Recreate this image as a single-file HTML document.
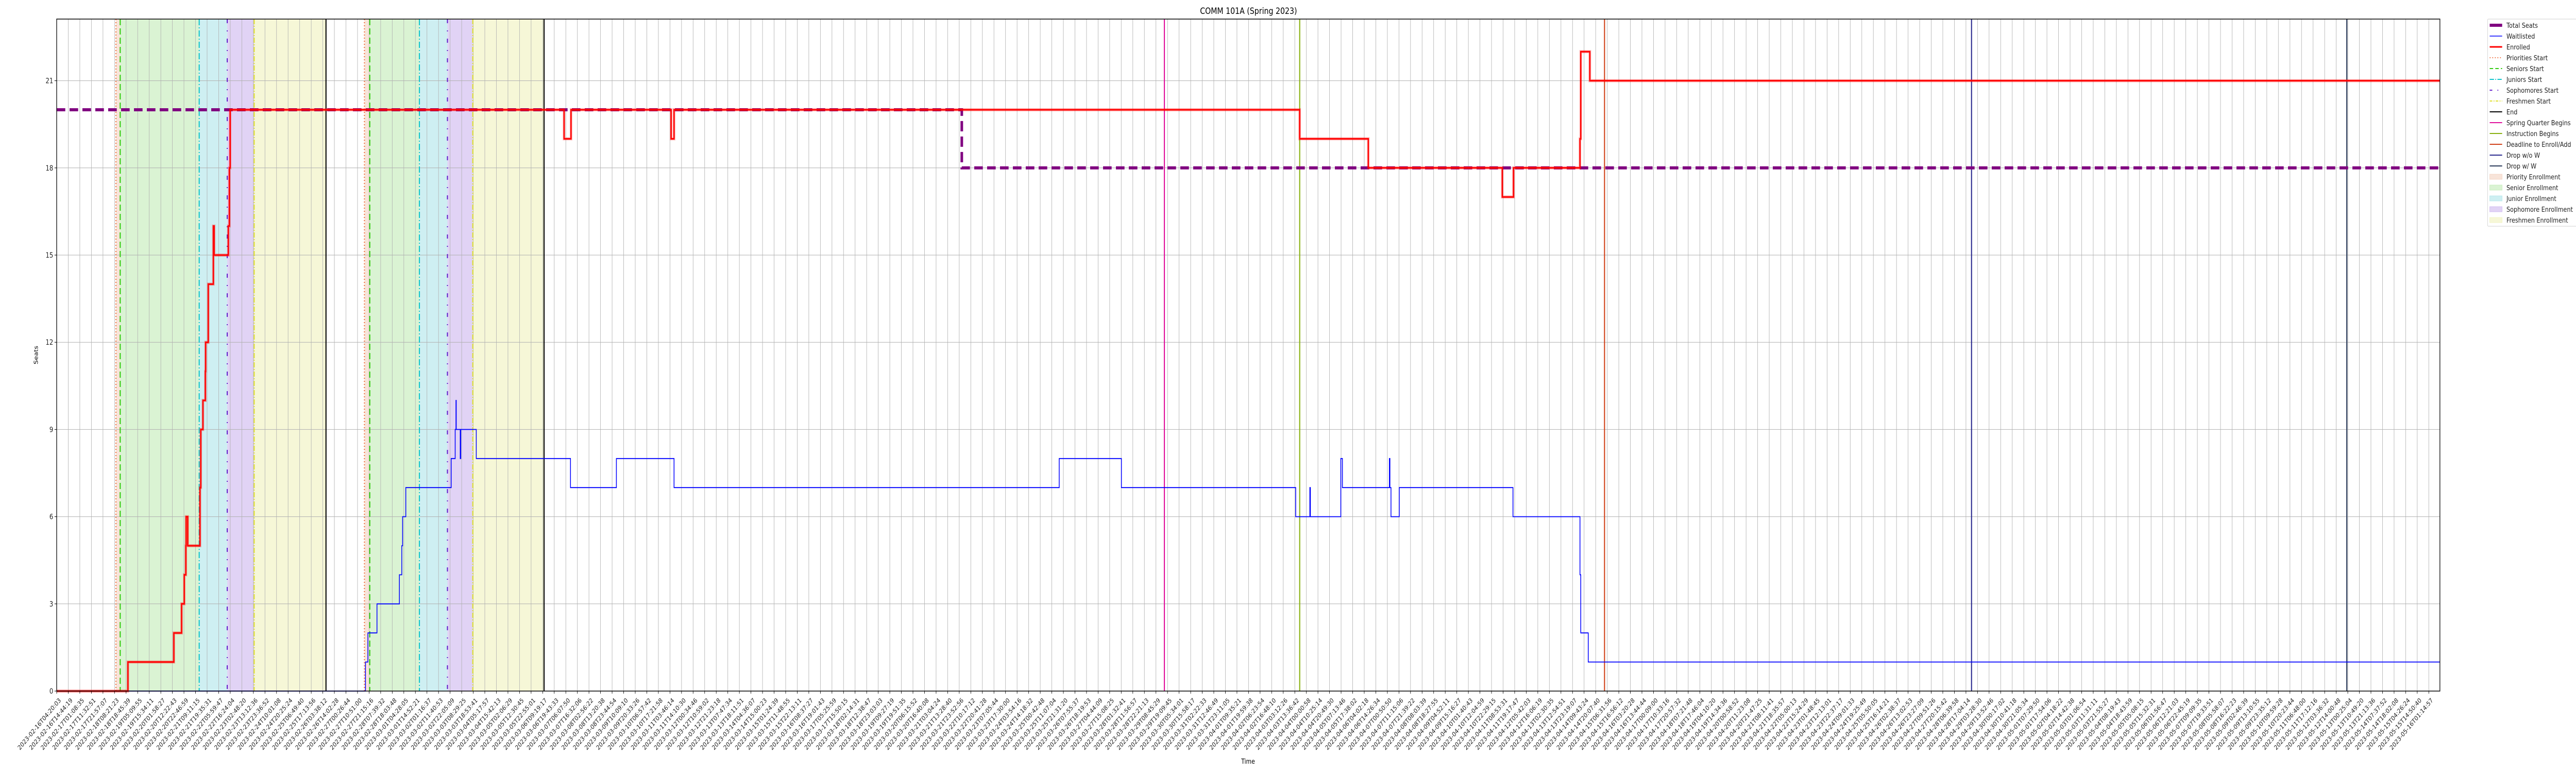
<!DOCTYPE html>
<html><head><meta charset="utf-8"><title>COMM 101A (Spring 2023)</title>
<style>
html,body{margin:0;padding:0;background:#fff;overflow:hidden;width:100%;height:100%;}
svg{display:block;width:100vw;height:100vh;font-family:"DejaVu Sans","Liberation Sans",sans-serif;}
</style></head>
<body>
<svg id="chart" xmlns="http://www.w3.org/2000/svg" viewBox="0 0 6000 1500" preserveAspectRatio="none">
  <rect x="0" y="0" width="6000" height="1500" fill="#fff"/>
  <text x="2908" y="27" font-size="17" text-anchor="middle" fill="#000">COMM 101A (Spring 2023)</text>
  <g id="shades"></g>
  <g id="grid"></g>
  <g id="vlines"></g>
  <g id="series"></g>
  <rect x="132" y="37" width="5551" height="1304" fill="none" stroke="#000" stroke-width="1.5"/>
  <g id="yaxis"></g>
  <g id="xaxis"></g>
  <text x="0" y="0" font-size="13" text-anchor="middle" transform="translate(88,689) rotate(-90)">Seats</text>
  <text x="2907" y="1482" font-size="13" text-anchor="middle">Time</text>
  <g id="legend"></g>
</svg>
<script>
// ---- data (x in days since 2023-02-16T04:20:03) ----
const enrolledDays = [0, 2.67, 4.39, 4.68, 4.78, 4.84, 4.85, 4.91, 5.37, 5.40, 5.48, 5.57, 5.58, 5.68, 5.87, 5.90, 6.43, 6.47, 6.50, 19.01, 19.27, 23.02, 23.13, 46.57, 49.14, 54.16, 54.58, 57.07, 57.10, 57.44];
const enrolledVals = [0, 1, 2, 3, 4, 5, 6, 5, 7, 9, 10, 11, 12, 14, 16, 15, 16, 18, 20, 19, 20, 19, 20, 19, 18, 17, 18, 19, 22, 21];
const waitDays = [0, 11.57, 11.66, 12.00, 12.84, 12.93, 12.96, 13.08, 14.78, 14.93, 14.96, 14.97, 15.12, 15.14, 15.72, 19.25, 20.97, 23.13, 37.56, 39.89, 46.42, 46.95, 46.97, 48.11, 48.17, 49.93, 49.95, 49.99, 50.30, 54.56, 57.07, 57.10, 57.38];
const waitVals = [0, 1, 2, 3, 4, 5, 6, 7, 8, 9, 10, 9, 8, 9, 8, 7, 8, 7, 8, 7, 6, 7, 6, 8, 7, 8, 7, 6, 7, 6, 4, 2, 1];
const seatDays = [0, 33.91];
const seatVals = [20, 18];
const endDay = 89.29;
const yTicks = [0, 3, 6, 9, 12, 15, 18, 21];
const firstTickMs = Date.UTC(2023, 1, 16, 4, 20, 3);
const lastTickMs = Date.UTC(2023, 4, 16, 1, 14, 57);
const tickCount = 206;
const periodNames = ["Priority Enrollment", "Senior Enrollment", "Junior Enrollment", "Sophomore Enrollment", "Freshmen Enrollment"];
const periodStarts1 = [2.22, 2.38, 5.34, 6.39, 7.40];
const periodEnds1 = [2.38, 5.34, 6.39, 7.40, 10.09];
const periodStarts2 = [11.53, 11.73, 13.59, 14.64, 15.59];
const periodEnds2 = [11.73, 13.59, 14.64, 15.59, 18.26];
const endLines = [10.09, 18.26];
const milestoneNames = ["Spring Quarter Begins", "Instruction Begins", "Deadline to Enroll/Add", "Drop w/o W", "Drop w/ W"];
const milestoneDays = [41.50, 46.57, 57.99, 71.74, 85.80];

// ---- scales ----
const X0 = 132, PXD = 62.17, Y0 = 1341, PXV = 56.4;
function X(d){ return X0 + d * PXD; }
function Y(v){ return Y0 - v * PXV; }
const NS = "http://www.w3.org/2000/svg";
function mk(tag, attrs, parent){ const e = document.createElementNS(NS, tag); for (const k in attrs) e.setAttribute(k, attrs[k]); parent.appendChild(e); return e; }

const shadeColors = ["#f2c9b3", "#b5e8a8", "#9ee0e6", "#c3a8ec", "#eef0b0"];
const startColors = ["#ee7040", "#33cc11", "#11c4cc", "#6622cc", "#e0e030"];
const startDash = ["2,4", "12,6", "12,4,2,4", "8,14,2,14", "10,3,2,3"];
const startNames = ["priorities-start", "seniors-start", "juniors-start", "sophomores-start", "freshmen-start"];
const milestoneColors = ["#e0109c", "#88b010", "#d04018", "#2a2a8e", "#2a3a5a"];

const shades = document.getElementById('shades');
[[periodStarts1, periodEnds1], [periodStarts2, periodEnds2]].forEach(function(pair, c){
  for (let i = 0; i < periodNames.length; i++) {
    const r = mk('rect', {x: X(pair[0][i]), y: 37, width: X(pair[1][i]) - X(pair[0][i]), height: 1304, fill: shadeColors[i], 'fill-opacity': 0.5}, shades);
    
    
  }
});

const grid = document.getElementById('grid');
const xaxis = document.getElementById('xaxis');
const yaxis = document.getElementById('yaxis');
function pad(n){ return (n < 10 ? '0' : '') + n; }
for (let i = 0; i < tickCount; i++) {
  const ms = firstTickMs + (lastTickMs - firstTickMs) * i / (tickCount - 1);
  const d = (ms - firstTickMs) / 86400000;
  const x = X(d);
  const gl = mk('line', {x1: x, x2: x, y1: 37, y2: 1341, stroke: '#b0b0b0', 'stroke-width': 1}, grid);
  
  
  mk('line', {x1: x, x2: x, y1: 1341, y2: 1346, stroke: '#000', 'stroke-width': 1}, xaxis);
  const t = new Date(ms);
  const lbl = t.getUTCFullYear() + '-' + pad(t.getUTCMonth() + 1) + '-' + pad(t.getUTCDate()) + 'T' + pad(t.getUTCHours()) + ':' + pad(t.getUTCMinutes()) + ':' + pad(t.getUTCSeconds());
  const tx = mk('text', {x: x + 4, y: 1353, 'font-size': 12.5, 'text-anchor': 'end', 'dominant-baseline': 'hanging', transform: 'rotate(-45 ' + (x + 4) + ' 1353)', fill: '#222'}, xaxis);
  tx.textContent = lbl;
  
  
}
yTicks.forEach(function(v){
  const y = Y(v);
  const gl = mk('line', {x1: 132, x2: 5683, y1: y, y2: y, stroke: '#b0b0b0', 'stroke-width': 1}, grid);
  
  
  mk('line', {x1: 127, x2: 132, y1: y, y2: y, stroke: '#000', 'stroke-width': 1}, yaxis);
  const tx = mk('text', {x: 124, y: y + 5, 'font-size': 14, 'text-anchor': 'end', fill: '#222'}, yaxis);
  tx.textContent = String(v);
  
  
});

const vl = document.getElementById('vlines');
[periodStarts1, periodStarts2].forEach(function(starts, c){
  for (let i = 0; i < starts.length; i++) {
    const l = mk('line', {x1: X(starts[i]), x2: X(starts[i]), y1: 37, y2: 1341, stroke: startColors[i], 'stroke-width': 2.5, 'stroke-dasharray': startDash[i]}, vl);
    
    
  }
});
endLines.forEach(function(d, i){
  const l = mk('line', {x1: X(d), x2: X(d), y1: 37, y2: 1341, stroke: '#000', 'stroke-width': 2.5}, vl);
  
  
});
milestoneDays.forEach(function(d, i){
  const l = mk('line', {x1: X(d), x2: X(d), y1: 37, y2: 1341, stroke: milestoneColors[i], 'stroke-width': 2.5}, vl);
  
  
});

function stepPath(days, vals){
  let p = 'M' + X(days[0]) + ' ' + Y(vals[0]);
  for (let i = 1; i < days.length; i++) { p += ' H' + X(days[i]) + ' V' + Y(vals[i]); }
  p += ' H' + X(endDay);
  return p;
}
const ser = document.getElementById('series');
const seats = mk('path', {d: stepPath(seatDays, seatVals), fill: 'none', stroke: '#800080', 'stroke-width': 6, 'stroke-dasharray': '20,10'}, ser);


const wl = mk('path', {d: stepPath(waitDays, waitVals), fill: 'none', stroke: '#0000ff', 'stroke-width': 1.8}, ser);


const enShadow = mk('path', {d: stepPath(enrolledDays, enrolledVals), fill: 'none', stroke: '#ff0000', 'stroke-opacity': 0.3, 'stroke-width': 6}, ser);


const en = mk('path', {d: stepPath(enrolledDays, enrolledVals), fill: 'none', stroke: '#ff0000', 'stroke-width': 3}, ser);



const lg = document.getElementById('legend');
const box = mk('rect', {x: 5794, y: 37, width: 215, height: 402, fill: '#fff', stroke: '#d0d0d0', 'stroke-width': 1, rx: 2}, lg);


const legendItems = [
  ['Total Seats', 'line', '#800080', 6, ''],
  ['Waitlisted', 'line', '#0000ff', 1.5, ''],
  ['Enrolled', 'line', '#ff0000', 3, ''],
  ['Priorities Start', 'line', startColors[0], 2, startDash[0]],
  ['Seniors Start', 'line', startColors[1], 2, '8,5'],
  ['Juniors Start', 'line', startColors[2], 2, '10,3,2,3'],
  ['Sophomores Start', 'line', startColors[3], 2, '6,12,2,12'],
  ['Freshmen Start', 'line', startColors[4], 2, '6,3,2,3'],
  ['End', 'line', '#000', 2, ''],
  ['Spring Quarter Begins', 'line', milestoneColors[0], 2, ''],
  ['Instruction Begins', 'line', milestoneColors[1], 2, ''],
  ['Deadline to Enroll/Add', 'line', milestoneColors[2], 2, ''],
  ['Drop w/o W', 'line', milestoneColors[3], 2, ''],
  ['Drop w/ W', 'line', milestoneColors[4], 2, ''],
  ['Priority Enrollment', 'patch', shadeColors[0]],
  ['Senior Enrollment', 'patch', shadeColors[1]],
  ['Junior Enrollment', 'patch', shadeColors[2]],
  ['Sophomore Enrollment', 'patch', shadeColors[3]],
  ['Freshmen Enrollment', 'patch', shadeColors[4]]
];
legendItems.forEach(function(it, i){
  const cy = 49 + i * 21;
  const g = mk('g', {}, lg);
  
  
  if (it[1] === 'line') {
    const a = {x1: 5799, x2: 5828, y1: cy, y2: cy, stroke: it[2], 'stroke-width': it[3]};
    if (it[4]) a['stroke-dasharray'] = it[4];
    mk('line', a, g);
  } else {
    mk('rect', {x: 5799, y: cy - 5, width: 29, height: 10, fill: it[2], 'fill-opacity': 0.5, stroke: it[2], 'stroke-opacity': 0.6}, g);
  }
  const t = mk('text', {x: 5838, y: cy + 5, 'font-size': 13.5, fill: '#222'}, g);
  t.textContent = it[0];
});
</script>
</body></html>
